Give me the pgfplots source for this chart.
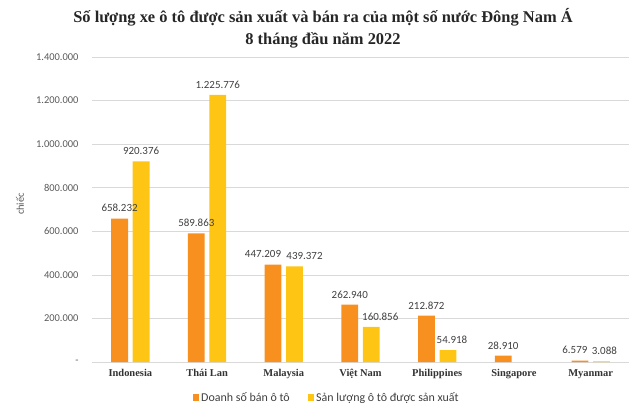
\documentclass[border=0pt]{standalone}
\usepackage{pgfplots}
\pgfplotsset{compat=1.18}
\usepackage{pgfplotstable}
\usepackage{fontspec}
\setmainfont{Liberation Serif}
\newfontfamily\calfont{Carlito}

\definecolor{sales}{HTML}{F7901E}
\definecolor{prod}{HTML}{FFC514}
\definecolor{lbl}{HTML}{404040}
\definecolor{tick}{HTML}{595959}
\definecolor{grid}{HTML}{D9D9D9}

% x, value, label, label shift (bp)
\pgfplotstableread{
x y lab dx
0 658232 658.232 0
1 589863 589.863 0
2 447209 447.209 -10
3 262940 262.940 0
4 212872 212.872 0
5 28910 28.910 0
6 6579 6.579 -5
}\salesdata

\pgfplotstableread{
x y lab dx
0 920376 920.376 0
1 1225776 1.225.776 0
2 439372 439.372 10
3 160856 160.856 9
4 54918 54.918 4
6 3088 3.088 3
}\proddata

\begin{document}
\begin{tikzpicture}[x=1bp,y=1bp]
\useasboundingbox (0,0) rectangle (640,408);
\node[font=\bfseries\fontsize{16.5}{18}\selectfont, text=black!85] at (323,391) {Số lượng xe ô tô được sản xuất và bán ra của một số nước Đông Nam Á};
\node[font=\bfseries\fontsize{16.5}{18}\selectfont, text=black!85] at (323,368) {8 tháng đầu năm 2022};
\node[rotate=90, font=\calfont\fontsize{10.5}{12}\selectfont, text=tick] at (20,204) {chiếc};
\begin{axis}[
    at={(92bp,46bp)}, anchor=south west,
    scale only axis,
    width=537bp, height=305bp,
    ybar=4.7bp, bar width=16.8bp,
    xmin=-0.5, xmax=6.5,
    ymin=0, ymax=1400000,
    xtick={0,...,6},
    xticklabels={Indonesia,Thái Lan,Malaysia,Việt Nam,Philippines,Singapore,Myanmar},
    xticklabel style={font=\bfseries\fontsize{10.5}{12}\selectfont, text=black!80, yshift=-4bp},
    ytick={0,200000,...,1400000},
    yticklabels={-,200.000,400.000,600.000,800.000,1.000.000,1.200.000,1.400.000},
    yticklabel style={font=\calfont\fontsize{10.5}{12}\selectfont, text=tick, xshift=-10bp},
    scaled y ticks=false,
    major tick length=0pt,
    axis x line*=bottom,
    axis y line*=left,
    x axis line style={draw=grid, line width=0.8pt},
    y axis line style={draw=none},
    ymajorgrids,
    grid style={draw=grid, line width=0.6pt},
    clip=false,
    point meta=explicit symbolic,
    nodes near coords,
    visualization depends on={\thisrow{dx} \as \dx},
    every node near coord/.append style={font=\calfont\fontsize{11}{12}\selectfont, text=lbl, anchor=south, yshift=3bp, xshift=\dx bp},
    legend columns=2,
    legend style={draw=none, at={(0.437,-0.118)}, anchor=center, font=\calfont\fontsize{12}{13}\selectfont, text=lbl,
        /tikz/every even column/.append style={column sep=16bp}},
    legend image code/.code={\fill[#1, draw=none] (0bp,-3.5bp) rectangle (6.5bp,3.5bp);},
]
\addplot[fill=sales, draw=none] table[x=x, y=y, meta=lab] {\salesdata};
\addplot[fill=prod, draw=none] table[x=x, y=y, meta=lab] {\proddata};
\legend{Doanh số bán ô tô, Sản lượng ô tô được sản xuất}
\end{axis}
\end{tikzpicture}
\end{document}
